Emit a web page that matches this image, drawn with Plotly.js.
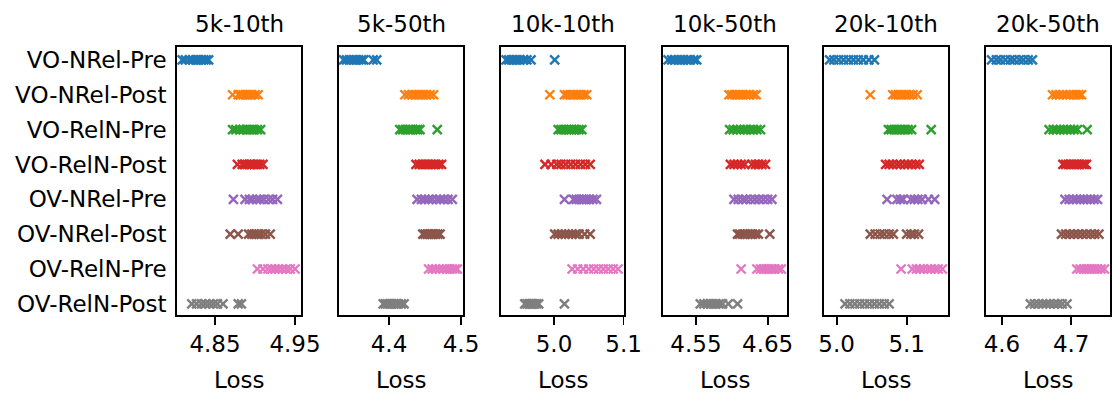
<!DOCTYPE html>
<html>
<head>
<meta charset="utf-8">
<script src="https://cdn.plot.ly/plotly-3.0.1.min.js"></script>
<style>html,body{margin:0;padding:0;background:#fff;}#chart{width:1119px;height:393px;}</style>
</head>
<body>
<div id="chart"></div>
<script>
// Category labels (top to bottom)
const categories = ["VO-NRel-Pre","VO-NRel-Post","VO-RelN-Pre","VO-RelN-Post","OV-NRel-Pre","OV-NRel-Post","OV-RelN-Pre","OV-RelN-Post"];
const panelTitles = ["5k-10th","5k-50th","10k-10th","10k-50th","20k-10th","20k-50th"];
const tickVals = [[4.85,4.95],[4.4,4.5],[5.0,5.1],[4.55,4.65],[5.0,5.1],[4.6,4.7]];
const tickText = [["4.85","4.95"],["4.4","4.5"],["5.0","5.1"],["4.55","4.65"],["5.0","5.1"],["4.6","4.7"]];

// Loss values per panel, one row per category (order as in categories)
const loss_5k_10th = [
  [4.809,4.813,4.818,4.822,4.826,4.829,4.833,4.836,4.839,4.842],
  [4.872,4.879,4.882,4.885,4.888,4.890,4.893,4.896,4.900,4.904],
  [4.872,4.876,4.881,4.885,4.889,4.892,4.896,4.899,4.903,4.907],
  [4.878,4.884,4.887,4.890,4.893,4.895,4.899,4.903,4.906,4.910],
  [4.873,4.8875,4.893,4.897,4.902,4.906,4.911,4.917,4.922,4.928],
  [4.869,4.879,4.892,4.896,4.899,4.902,4.905,4.908,4.913,4.919],
  [4.903,4.910,4.916,4.921,4.925,4.929,4.934,4.939,4.944,4.950],
  [4.821,4.827,4.833,4.838,4.843,4.848,4.853,4.860,4.879,4.883]
];
const loss_5k_50th = [
  [4.337,4.341,4.345,4.350,4.354,4.358,4.362,4.365,4.378,4.383],
  [4.422,4.427,4.432,4.436,4.440,4.444,4.448,4.452,4.457,4.462],
  [4.415,4.419,4.423,4.427,4.430,4.433,4.437,4.440,4.443,4.467],
  [4.4375,4.442,4.446,4.450,4.454,4.458,4.462,4.465,4.469,4.473],
  [4.439,4.445,4.450,4.455,4.460,4.466,4.471,4.476,4.482,4.488],
  [4.447,4.450,4.453,4.455,4.458,4.460,4.463,4.465,4.468,4.471],
  [4.455,4.460,4.465,4.470,4.475,4.480,4.484,4.488,4.492,4.495],
  [4.392,4.395,4.398,4.401,4.404,4.407,4.410,4.413,4.417,4.421]
];
const loss_10k_10th = [
  [4.931,4.935,4.939,4.943,4.947,4.951,4.956,4.961,4.967,5.001],
  [4.994,5.015,5.019,5.023,5.027,5.031,5.035,5.039,5.043,5.047],
  [5.006,5.010,5.014,5.018,5.022,5.025,5.029,5.032,5.036,5.040],
  [4.987,4.996,5.004,5.010,5.017,5.024,5.031,5.038,5.045,5.052],
  [5.015,5.028,5.032,5.036,5.040,5.043,5.047,5.051,5.056,5.061],
  [5.001,5.006,5.011,5.016,5.021,5.026,5.031,5.036,5.044,5.052],
  [5.026,5.034,5.042,5.050,5.057,5.064,5.071,5.078,5.085,5.092],
  [4.958,4.961,4.964,4.966,4.968,4.970,4.972,4.975,4.978,5.015]
];
const loss_10k_50th = [
  [4.511,4.516,4.520,4.525,4.529,4.533,4.538,4.542,4.547,4.551],
  [4.596,4.600,4.604,4.608,4.612,4.616,4.620,4.625,4.630,4.634],
  [4.597,4.602,4.607,4.612,4.617,4.621,4.626,4.630,4.635,4.640],
  [4.598,4.603,4.608,4.613,4.618,4.628,4.633,4.637,4.642,4.647],
  [4.603,4.609,4.615,4.620,4.626,4.632,4.638,4.644,4.650,4.656],
  [4.608,4.611,4.615,4.618,4.622,4.626,4.629,4.633,4.637,4.653],
  [4.613,4.635,4.640,4.644,4.648,4.652,4.656,4.660,4.665,4.669],
  [4.556,4.561,4.566,4.570,4.574,4.578,4.582,4.587,4.595,4.608]
];
const loss_20k_10th = [
  [4.990,4.996,5.003,5.010,5.017,5.024,5.031,5.038,5.046,5.054],
  [5.048,5.080,5.084,5.088,5.092,5.096,5.100,5.104,5.109,5.115],
  [5.074,5.078,5.082,5.086,5.090,5.094,5.098,5.102,5.107,5.135],
  [5.070,5.075,5.080,5.086,5.091,5.097,5.102,5.107,5.113,5.118],
  [5.072,5.086,5.091,5.095,5.106,5.111,5.116,5.122,5.131,5.140],
  [5.048,5.055,5.062,5.068,5.075,5.081,5.100,5.106,5.111,5.117],
  [5.092,5.108,5.114,5.119,5.124,5.130,5.135,5.140,5.145,5.151],
  [5.012,5.019,5.026,5.033,5.040,5.047,5.054,5.061,5.068,5.075]
];
const loss_20k_50th = [
  [4.585,4.592,4.598,4.605,4.612,4.618,4.625,4.631,4.638,4.644],
  [4.673,4.678,4.683,4.688,4.693,4.698,4.703,4.707,4.711,4.715],
  [4.668,4.674,4.679,4.684,4.689,4.694,4.699,4.704,4.709,4.723],
  [4.688,4.692,4.696,4.700,4.704,4.708,4.712,4.716,4.719,4.722],
  [4.691,4.697,4.703,4.708,4.713,4.718,4.723,4.728,4.733,4.738],
  [4.686,4.692,4.698,4.704,4.710,4.716,4.722,4.728,4.734,4.740],
  [4.708,4.713,4.718,4.722,4.726,4.730,4.734,4.738,4.743,4.748],
  [4.641,4.647,4.653,4.659,4.664,4.669,4.675,4.681,4.687,4.694]
];

const panelData = [loss_5k_10th, loss_5k_50th, loss_10k_10th, loss_10k_50th, loss_20k_10th, loss_20k_50th];
const colors = ["#1f77b4","#ff7f0e","#2ca02c","#d62728","#9467bd","#8c564b","#e377c2","#7f7f7f"];

const W = 1119, H = 393;
const panelPx = [[177,301],[339,463],[501,624],[663,787],[824,948],[986,1110]];
const xRanges = [[4.8025,4.9575],[4.3306,4.5028],[4.9238,5.1006],[4.504,4.677],[4.982,5.159],[4.577,4.756]];
const yDom = [(H-315)/H, (H-47)/H];
const font = {family: "DejaVu Sans, sans-serif", size: 23, color: "#000"};

const traces = [];
const layout = {
  width: W, height: H,
  margin: {l:0, r:0, t:0, b:0},
  paper_bgcolor: "#fff", plot_bgcolor: "#fff",
  showlegend: false,
  font: font,
  annotations: []
};

panelData.forEach((pd, p) => {
  const xa = p === 0 ? "x" : "x" + (p+1);
  const ya = p === 0 ? "y" : "y" + (p+1);
  pd.forEach((vals, c) => {
    traces.push({
      type: "scatter", mode: "markers",
      x: vals, y: vals.map(() => categories[c]),
      xaxis: xa, yaxis: ya,
      marker: {symbol: "x-thin-open", size: 9, color: colors[c], line: {color: colors[c], width: 2.4}},
      hoverinfo: "x+y",
      cliponaxis: true
    });
  });
  const xKey = p === 0 ? "xaxis" : "xaxis" + (p+1);
  const yKey = p === 0 ? "yaxis" : "yaxis" + (p+1);
  layout[xKey] = {
    domain: [panelPx[p][0]/W, panelPx[p][1]/W],
    anchor: ya,
    range: xRanges[p],
    tickmode: "array", tickvals: tickVals[p], ticktext: tickText[p],
    ticks: "outside", ticklen: 8, tickwidth: 1.8, tickcolor: "#000",
    showline: true, linecolor: "#000", linewidth: 1.8, mirror: true,
    showgrid: false, zeroline: false,
    tickfont: font,
    ticklabelstandoff: 0
  };
  layout[yKey] = {
    domain: yDom,
    anchor: xa,
    type: "category",
    categoryarray: categories, categoryorder: "array",
    range: [7.32, -0.37],
    showline: true, linecolor: "#000", linewidth: 1.8, mirror: true,
    showgrid: false, zeroline: false,
    ticks: "",
    showticklabels: p === 0,
    tickfont: font,
    ticklabelstandoff: 4
  };
  if (p > 0) layout[yKey].matches = "y";
  const cx = (panelPx[p][0] + panelPx[p][1]) / 2 / W;
  layout.annotations.push({
    text: panelTitles[p], xref: "paper", yref: "paper",
    x: cx, y: (H-24)/H, xanchor: "center", yanchor: "middle",
    showarrow: false, font: font
  });
  layout.annotations.push({
    text: "Loss", xref: "paper", yref: "paper",
    x: cx, y: (H-380)/H, xanchor: "center", yanchor: "middle",
    showarrow: false, font: font
  });
});

Plotly.newPlot("chart", traces, layout, {displayModeBar: false, staticPlot: true});
</script>
</body>
</html>
